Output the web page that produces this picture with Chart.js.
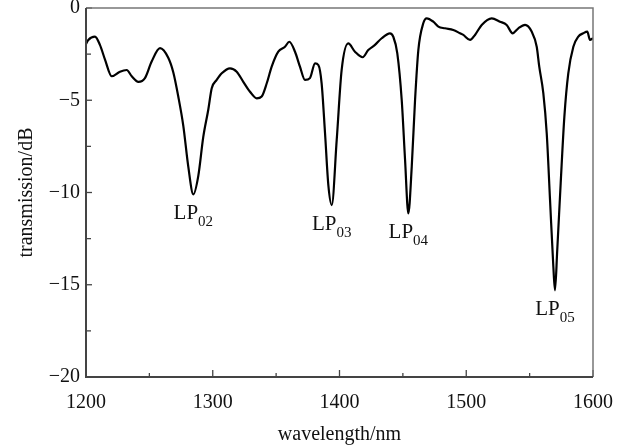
<!DOCTYPE html>
<html>
<head>
<meta charset="utf-8">
<title>transmission spectrum</title>
<script src="https://cdn.jsdelivr.net/npm/chart.js@4.4.1/dist/chart.umd.min.js"></script>
<style>
  body { margin: 0; background: #fff; }
  canvas { display: block; }
</style>
</head>
<body>
<canvas id="specChart" width="628" height="447"></canvas>
<script>
// values
const wavelengths = [
  1200, 1201.8, 1207.1, 1211.0, 1215.0, 1220.3, 1226.8, 1232.1, 1236.1, 1241.3,
  1246.5, 1251.8, 1258.4, 1264.9, 1268.9, 1272.8, 1276.8, 1280.7, 1284.7, 1288.6,
  1292.5, 1296.5, 1299.2, 1303.1, 1307.1, 1313.6, 1318.9, 1324.1, 1329.4, 1334.7,
  1338.6, 1342.6, 1346.5, 1351.7, 1357.0, 1360.4, 1364.9, 1368.8, 1372.8, 1376.7,
  1380.7, 1383.3, 1385.9, 1388.6, 1391.2, 1393.9, 1397.8, 1401.7, 1406.9, 1412.2,
  1418.3, 1422.7, 1428.0, 1433.3, 1439.8, 1442.4, 1445.6, 1449.1, 1451.7, 1454.3,
  1457.0, 1459.6, 1462.2, 1466.1, 1468.8, 1474.0, 1478.0, 1483.2, 1489.8, 1495.1,
  1497.7, 1503.0, 1506.9, 1512.2, 1520.1, 1526.6, 1531.9, 1536.6, 1541.1, 1546.4,
  1551.6, 1555.6, 1557.6, 1560.8, 1563.5, 1566.1, 1568.7, 1570.0, 1571.8, 1574.5,
  1577.4, 1580.5, 1584.5, 1588.4, 1592.3, 1595.5, 1597.6, 1600
];
const transmission = [
  -1.95, -1.73, -1.55, -2.0, -2.8, -3.7, -3.45, -3.36, -3.7, -4.0,
  -3.8, -2.9, -2.18, -2.7, -3.5, -4.8, -6.4, -8.6, -10.1, -9.1,
  -7.0, -5.5, -4.35, -3.9, -3.54, -3.27, -3.45, -4.0, -4.54, -4.9,
  -4.8, -4.08, -3.18, -2.37, -2.1, -1.83, -2.37, -3.18, -3.9, -3.8,
  -3.0, -3.09, -4.08, -6.8, -9.6, -10.68, -7.15, -3.36, -1.92, -2.37,
  -2.67, -2.28, -2.0, -1.64, -1.37, -1.55, -2.46, -5.0, -8.2, -11.13,
  -8.6, -5.0, -2.28, -0.83, -0.56, -0.74, -1.01, -1.1, -1.19, -1.37,
  -1.46, -1.73, -1.46, -0.92, -0.56, -0.74, -0.92, -1.37, -1.1, -0.92,
  -1.28, -2.1, -3.18, -4.62, -6.8, -10.4, -14.0, -15.3, -13.1, -9.5,
  -5.9, -3.54, -2.1, -1.55, -1.37, -1.28, -1.73, -1.64
];

const xMajorTicks = [1200, 1300, 1400, 1500, 1600];
const yMajorTicks = [0, -5, -10, -15, -20];

const dipNames = ['02', '03', '04', '05'];
const dipWavelengths = [1284.7, 1393.9, 1454.3, 1570.0];

const serif = '"Liberation Serif", "Times New Roman", serif';

const points = wavelengths.map(function(w, i) {
  return { x: w, y: transmission[i] };
});

// inward ticks + box frame
const framePlugin = {
  id: 'frame',
  afterDraw: function(chart) {
    const ctx = chart.ctx;
    const a = chart.chartArea;
    const xs = chart.scales.x;
    const ys = chart.scales.y;
    ctx.save();
    ctx.strokeStyle = '#444';
    ctx.lineWidth = 1.3;
    xs.ticks.forEach(function(t) {
      const px = xs.getPixelForValue(t.value);
      const len = xMajorTicks.indexOf(t.value) >= 0 ? 7 : 4;
      ctx.beginPath();
      ctx.moveTo(px, a.bottom);
      ctx.lineTo(px, a.bottom - len);
      ctx.stroke();
    });
    ys.ticks.forEach(function(t) {
      const py = ys.getPixelForValue(t.value);
      const len = yMajorTicks.indexOf(t.value) >= 0 ? 6 : 5;
      ctx.beginPath();
      ctx.moveTo(a.left, py);
      ctx.lineTo(a.left + len, py);
      ctx.stroke();
    });
    ctx.strokeStyle = '#777';
    ctx.lineWidth = 1.5;
    ctx.beginPath();
    ctx.moveTo(a.left, a.top);
    ctx.lineTo(a.right, a.top);
    ctx.lineTo(a.right, a.bottom);
    ctx.stroke();
    ctx.strokeStyle = '#444';
    ctx.lineWidth = 2;
    ctx.beginPath();
    ctx.moveTo(a.left, a.top);
    ctx.lineTo(a.left, a.bottom);
    ctx.lineTo(a.right, a.bottom);
    ctx.stroke();
    ctx.restore();
  }
};

// LP mode labels under each dip
const dipLabelPlugin = {
  id: 'dipLabels',
  afterDatasetsDraw: function(chart) {
    const ctx = chart.ctx;
    const xs = chart.scales.x;
    const ys = chart.scales.y;
    ctx.save();
    ctx.fillStyle = '#111';
    ctx.textBaseline = 'alphabetic';
    dipWavelengths.forEach(function(w, k) {
      let best = 0;
      wavelengths.forEach(function(v, i) {
        if (Math.abs(v - w) < Math.abs(wavelengths[best] - w)) best = i;
      });
      const px = xs.getPixelForValue(wavelengths[best]);
      const py = ys.getPixelForValue(transmission[best]);
      ctx.font = '21px ' + serif;
      const wMain = ctx.measureText('LP').width;
      ctx.font = '15px ' + serif;
      const wSub = ctx.measureText(dipNames[k]).width;
      const left = px - (wMain + wSub) / 2;
      const base = py + 25;
      ctx.font = '21px ' + serif;
      ctx.fillText('LP', left, base);
      ctx.font = '15px ' + serif;
      ctx.fillText(dipNames[k], left + wMain, base + 7);
    });
    ctx.restore();
  }
};

new Chart(document.getElementById('specChart'), {
  type: 'line',
  data: {
    datasets: [{
      data: points,
      borderColor: '#000',
      borderWidth: 2.2,
      pointRadius: 0,
      fill: false,
      cubicInterpolationMode: 'monotone'
    }]
  },
  options: {
    responsive: false,
    animation: false,
    devicePixelRatio: 1,
    layout: { padding: { top: 8, right: 35, left: 0, bottom: 0 } },
    plugins: {
      legend: { display: false },
      tooltip: { enabled: false }
    },
    scales: {
      x: {
        type: 'linear',
        min: 1200,
        max: 1600,
        grid: { display: false, drawTicks: false },
        border: { display: false },
        afterFit: function(scale) {
          scale.height = 70;
          scale.paddingLeft = 0;
          scale.paddingRight = 0;
        },
        ticks: {
          stepSize: 50,
          padding: 14,
          color: '#111',
          maxRotation: 0,
          autoSkip: false,
          font: { family: serif, size: 20 },
          callback: function(v) {
            return xMajorTicks.indexOf(v) >= 0 ? String(v) : '';
          }
        },
        title: {
          display: true,
          text: 'wavelength/nm',
          color: '#111',
          font: { family: serif, size: 20 },
          padding: { top: 0, bottom: 0 }
        }
      },
      y: {
        min: -20,
        max: 0,
        grid: { display: false, drawTicks: false },
        border: { display: false },
        afterFit: function(scale) {
          scale.width = 86;
          scale.paddingTop = 0;
          scale.paddingBottom = 0;
        },
        ticks: {
          stepSize: 2.5,
          padding: 6,
          color: '#111',
          autoSkip: false,
          font: { family: serif, size: 20 },
          callback: function(v) {
            return yMajorTicks.indexOf(v) >= 0 ? String(v).replace('-', '\u2212') : '';
          }
        },
        title: {
          display: true,
          text: 'transmission/dB',
          color: '#111',
          font: { family: serif, size: 20 },
          padding: { top: 15, bottom: 0 }
        }
      }
    }
  },
  plugins: [framePlugin, dipLabelPlugin]
});
</script>
</body>
</html>
